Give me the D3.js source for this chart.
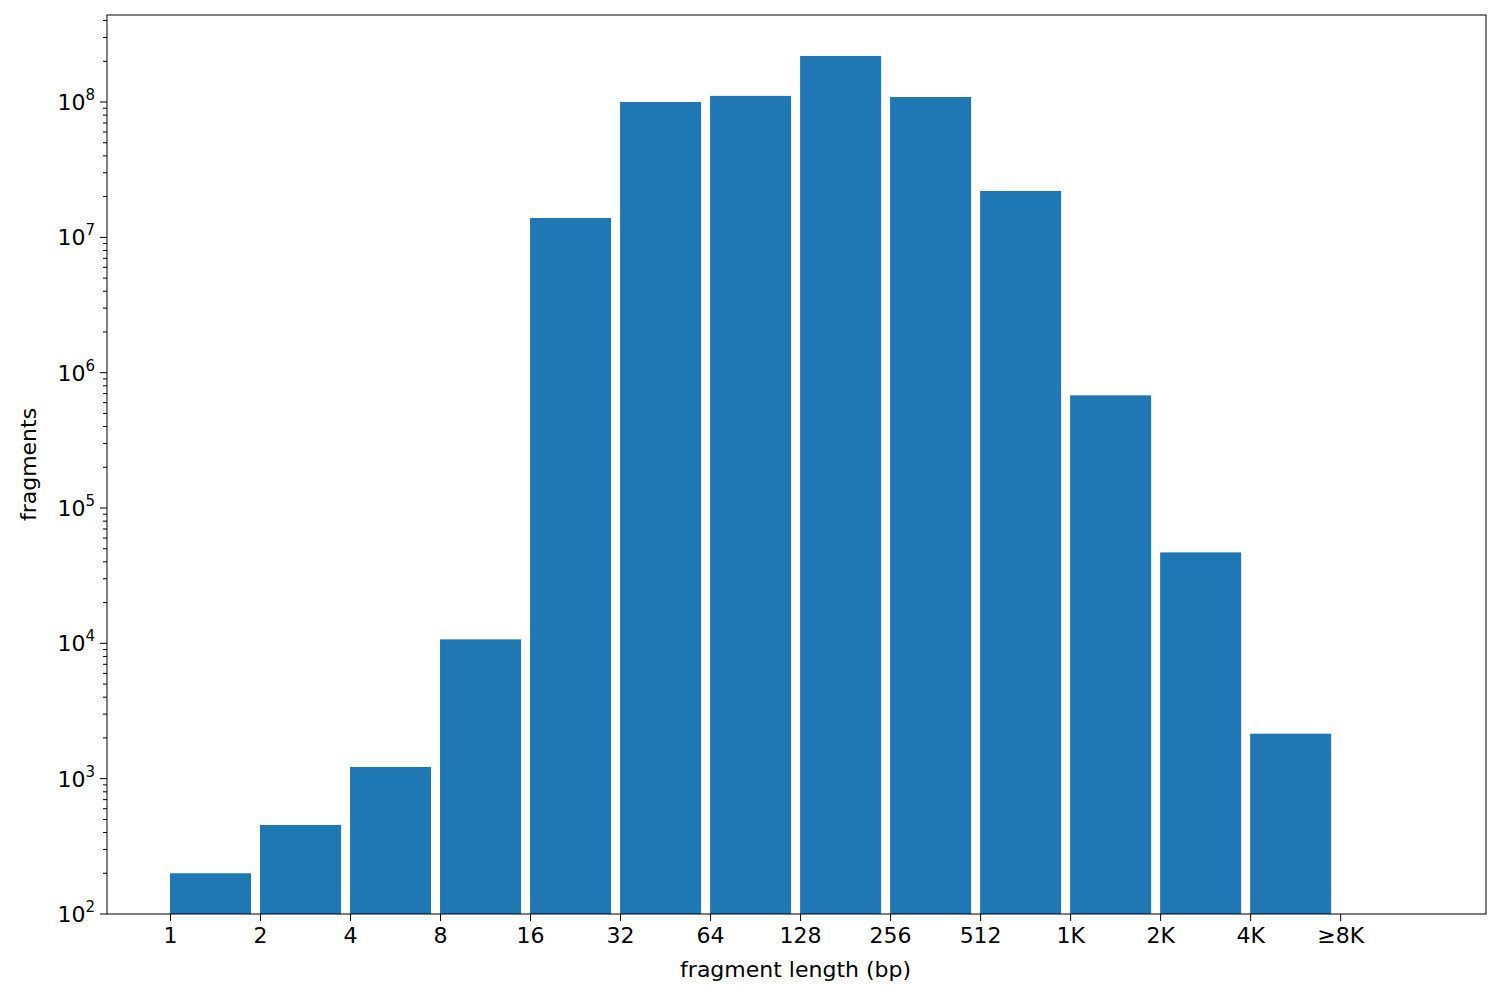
<!DOCTYPE html>
<html>
<head>
<meta charset="utf-8">
<script src="https://cdn.jsdelivr.net/npm/d3@7"></script>
<style>
  body { margin: 0; background: #fff; }
  text { font-family: "DejaVu Sans", sans-serif; }
</style>
</head>
<body>
<div id="chart"></div>
<script>
const categories = ['1', '2', '4', '8', '16', '32', '64', '128', '256', '512', '1K', '2K', '4K', '≥8K']
const fragments = [200, 455, 1220, 10700, 1.39e7, 1.0e8, 1.11e8, 2.19e8, 1.09e8, 2.2e7, 6.8e5, 4.7e4, 2.15e3]

const width = 1500
const height = 1000
const margin = { left: 107, right: 14, top: 15, bottom: 86 }

const svg = d3.select('#chart').append('svg')
  .attr('width', width)
  .attr('height', height)

const x = d3.scaleLinear()
  .domain([-0.7, 14.62])
  .range([margin.left, width - margin.right])

const y = d3.scaleLog()
  .domain([100, Math.pow(10, 8.643)])
  .range([height - margin.bottom, margin.top])

// bars: left edge on tick, width 0.9
svg.append('g')
  .selectAll('rect')
  .data(fragments)
  .enter()
  .append('rect')
  .attr('x', (d, i) => x(i))
  .attr('width', x(0.9) - x(0))
  .attr('y', d => y(d))
  .attr('height', d => y(100) - y(d))
  .attr('fill', '#1f77b4')

// x axis
const axisX = d3.axisBottom(x)
  .tickValues(d3.range(categories.length))
  .tickFormat(i => categories[i])
  .tickSizeOuter(0)
  .tickSize(7)
  .tickPadding(6)

const gx = svg.append('g')
  .attr('transform', 'translate(0,' + (height - margin.bottom) + ')')
  .call(axisX)
gx.selectAll('text').style('font-size', '22px').attr('fill', '#000')
gx.select('.domain').remove()

// y axis
const majors = [2, 3, 4, 5, 6, 7, 8]
const minors = []
for (let e = 2; e <= 8; e++) {
  for (let m = 2; m <= 9; m++) {
    const v = m * Math.pow(10, e)
    if (v < y.domain()[1]) minors.push(v)
  }
}

const gy = svg.append('g')
  .attr('transform', 'translate(' + margin.left + ',0)')
gy.selectAll('line.minor')
  .data(minors)
  .enter()
  .append('line')
  .attr('x1', -4)
  .attr('x2', 0)
  .attr('y1', d => y(d))
  .attr('y2', d => y(d))
  .attr('stroke', '#000')
gy.selectAll('line.major')
  .data(majors)
  .enter()
  .append('line')
  .attr('x1', -7)
  .attr('x2', 0)
  .attr('y1', d => y(Math.pow(10, d)))
  .attr('y2', d => y(Math.pow(10, d)))
  .attr('stroke', '#000')
const labels = gy.selectAll('text.lab')
  .data(majors)
  .enter()
  .append('text')
  .attr('x', -12)
  .attr('y', d => y(Math.pow(10, d)) + 8)
  .attr('text-anchor', 'end')
  .style('font-size', '22px')
labels.append('tspan').text('10')
labels.append('tspan').text(d => d).attr('dy', -10).style('font-size', '15px')

// frame
svg.append('rect')
  .attr('x', margin.left)
  .attr('y', margin.top)
  .attr('width', width - margin.left - margin.right)
  .attr('height', height - margin.top - margin.bottom)
  .attr('fill', 'none')
  .attr('stroke', '#000')

// axis labels
svg.append('text')
  .attr('x', x(6.95))
  .attr('y', 977)
  .attr('text-anchor', 'middle')
  .style('font-size', '22px')
  .text('fragment length (bp)')

svg.append('text')
  .attr('transform', 'translate(36,' + ((margin.top + height - margin.bottom) / 2) + ') rotate(-90)')
  .attr('text-anchor', 'middle')
  .style('font-size', '22px')
  .text('fragments')
</script>
</body>
</html>
